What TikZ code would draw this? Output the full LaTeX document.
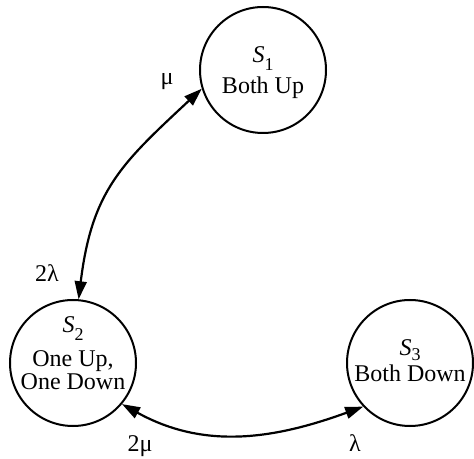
\documentclass[tikz,border=0pt]{standalone}
\usepackage{fontspec}
\setmainfont{Liberation Serif}
\usetikzlibrary{arrows.meta}
\newcommand\stname[2][-8pt]{\textit{S}\raisebox{#1}[0pt][0pt]{\fontsize{18}{18}\selectfont #2}}
\begin{document}
\begin{tikzpicture}[x=1pt,y=1pt,
  state/.style={circle,draw,line width=2pt,minimum size=126pt,inner sep=0pt},
  stlabel/.style={align=center,font=\fontsize{24}{23}\selectfont,inner sep=0pt},
  rate/.style={font=\fontsize{24}{24}\selectfont,anchor=base,inner sep=0pt},
  arr/.style={line width=2.2pt,{Triangle[length=18pt,width=12pt]}-{Triangle[length=18pt,width=12pt]}}]
\useasboundingbox (0,0) rectangle (474,458);
\node[state] (s1) at (263,388) {};
\node[state] (s2) at (73,95) {};
\node[state] (s3) at (410,95) {};
\node[stlabel] (t1) at (263,385) {\stname{1}\\[8pt]Both Up};
\node[stlabel] (t2) at (73,104.5) {\stname{2}\\[11pt]One Up,\\One Down};
\node[stlabel] (t3) at (410,97) {\stname[-5pt]{3}\\[3pt]Both Down};
\draw[arr] (s2.85) to[out=83,in=223,looseness=1.15] (s1.197);
\draw[arr] (s2.-40) to[out=-29,in=200] (s3.-137);
\node[rate] (mu1) at (167,373) {μ};
\node[rate] (la2) at (47,176) {2λ};
\node[rate] (mu2) at (140,7) {2μ};
\node[rate] (la1) at (355,7) {λ};
\end{tikzpicture}
\end{document}
